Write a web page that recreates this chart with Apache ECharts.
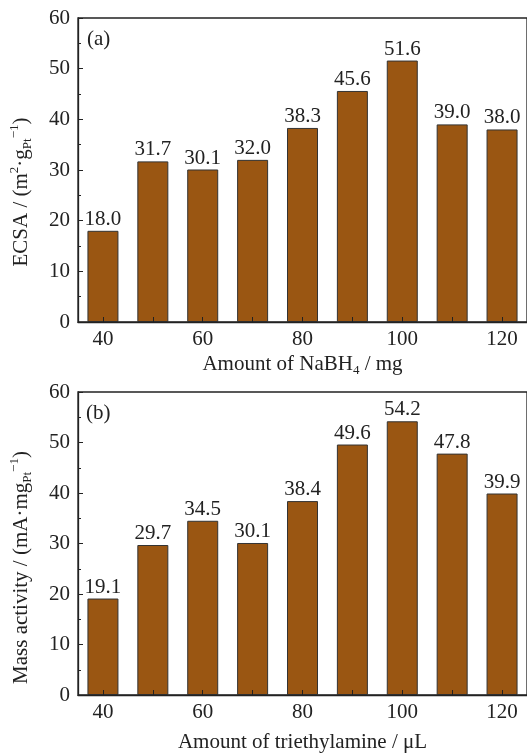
<!DOCTYPE html>
<html>
<head>
<meta charset="utf-8">
<script src="https://cdn.jsdelivr.net/npm/echarts@6/dist/echarts.min.js"></script>
<style>
  html, body { margin: 0; padding: 0; background: #fff; }
  #chart { width: 527px; height: 756px; }
</style>
</head>
<body>
<div id="chart"></div>
<script>
var amounts = ['40', '50', '60', '70', '80', '90', '100', '110', '120'];
var ecsa = [18.0, 31.7, 30.1, 32.0, 38.3, 45.6, 51.6, 39.0, 38.0];
var massActivity = [19.1, 29.7, 34.5, 30.1, 38.4, 49.6, 54.2, 47.8, 39.9];

var FONT = '"Liberation Serif", "DejaVu Serif", serif';
var INK = '#222';
var BROWN = '#9a5612';
var FS = 21;

var rich = {
    sup: { fontFamily: FONT, fontSize: 13, lineHeight: 13, verticalAlign: 'top', color: INK },
    sub: { fontFamily: FONT, fontSize: 13, lineHeight: 13, verticalAlign: 'bottom', color: INK }
};

function xAxisFor(idx, name, gap) {
    return {
        gridIndex: idx,
        type: 'category',
        data: amounts,
        boundaryGap: true,
        z: 5,
        name: name,
        nameLocation: 'middle',
        nameGap: gap,
        nameTextStyle: { fontFamily: FONT, fontSize: FS, color: INK, lineHeight: 26, rich: rich },
        axisLine: { lineStyle: { color: INK, width: 1.3 } },
        axisTick: { show: true, inside: true, length: 5, interval: 0, alignWithLabel: true, lineStyle: { color: INK } },
        axisLabel: { interval: 1, fontFamily: FONT, fontSize: FS, color: INK, margin: 7 },
        splitLine: { show: false }
    };
}

function yAxisFor(idx, name, shift) {
    return {
        gridIndex: idx,
        type: 'value',
        min: 0,
        max: 60,
        interval: 10,
        z: 5,
        name: name,
        nameLocation: 'middle',
        nameGap: 44,
        nameTextStyle: { fontFamily: FONT, fontSize: FS, color: INK, lineHeight: 26, rich: rich, padding: [0, shift, 0, 0] },
        axisLine: { show: true, lineStyle: { color: INK, width: 1.3 } },
        axisTick: { show: true, inside: true, length: 5, lineStyle: { color: INK } },
        minorTick: { show: true, splitNumber: 2, length: 3, lineStyle: { color: INK } },
        axisLabel: { fontFamily: FONT, fontSize: FS, color: INK, margin: 8 },
        splitLine: { show: false }
    };
}

function barSeries(idx, data) {
    return {
        type: 'bar',
        xAxisIndex: idx,
        yAxisIndex: idx,
        data: data,
        barWidth: 31,
        itemStyle: { color: BROWN, borderColor: '#333', borderWidth: 1 },
        label: {
            show: true,
            position: 'top',
            distance: 1,
            fontFamily: FONT,
            fontSize: FS,
            color: INK,
            formatter: function (p) { return p.value.toFixed(1); }
        }
    };
}

var chart = echarts.init(document.getElementById('chart'), null, { renderer: 'canvas' });
chart.setOption({
    animation: false,
    backgroundColor: '#fff',
    grid: [
        { left: 74, top: 18, width: 455, height: 304, show: true, borderColor: INK, borderWidth: 1.3 },
        { left: 74, top: 392, width: 455, height: 303, show: true, borderColor: INK, borderWidth: 1.3 }
    ],
    xAxis: [
        xAxisFor(0, 'Amount of NaBH{sub|4} / mg', 29),
        xAxisFor(1, 'Amount of triethylamine / μL', 34)
    ],
    yAxis: [
        yAxisFor(0, 'ECSA / (m{sup|2}·g{sub|Pt}{sup|−1})', 44),
        yAxisFor(1, 'Mass activity / (mA·mg{sub|Pt}{sup|−1})', 48)
    ],
    graphic: [
        { type: 'text', left: 87, top: 29, style: { text: '(a)', font: FS + 'px ' + FONT, fill: INK } },
        { type: 'text', left: 86, top: 403, style: { text: '(b)', font: FS + 'px ' + FONT, fill: INK } }
    ],
    series: [
        barSeries(0, ecsa),
        barSeries(1, massActivity)
    ]
});
</script>
</body>
</html>
